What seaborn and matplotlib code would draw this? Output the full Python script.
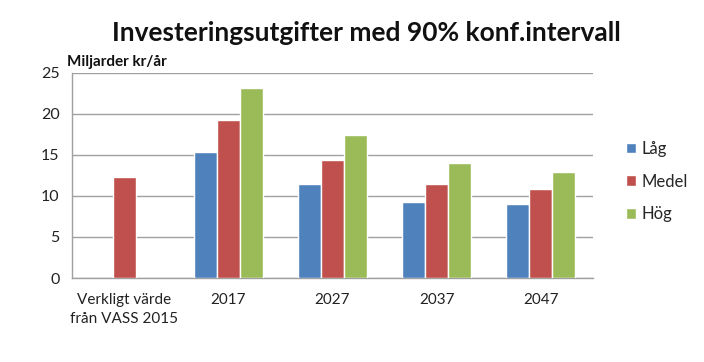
import matplotlib
matplotlib.use("Agg")
import matplotlib.pyplot as plt
import seaborn as sns
import pandas as pd

categories = ["Verkligt värde\nfrån VASS 2015", "2017", "2027", "2037", "2047"]
series = ["Låg", "Medel", "Hög"]
lag = [None, 15.3, 11.4, 9.2, 9.0]
medel = [12.3, 19.2, 14.4, 11.5, 10.9]
hog = [None, 23.1, 17.4, 14.0, 12.9]
colors = ["#4F81BD", "#C0504D", "#9BBB59"]

rows = []
for s, vals in zip(series, [lag, medel, hog]):
    for c, v in zip(categories, vals):
        if v is not None:
            rows.append({"cat": c, "serie": s, "val": v})
df = pd.DataFrame(rows)

sns.set_style("white")
plt.rcParams["font.family"] = ["Lato", "DejaVu Sans"]

fig = plt.figure(figsize=(7.04, 3.62), dpi=100)
ax = fig.add_axes([0.1023, 0.232, 0.7398, 0.567])
sns.barplot(data=df, x="cat", y="val", hue="serie", order=categories,
            hue_order=series, palette=colors, width=0.66, saturation=1,
            errorbar=None, ax=ax, zorder=3)

ax.set_xlim(-0.5, len(categories) - 0.5)
ax.set_ylim(0, 25)
ax.set_yticks([0, 5, 10, 15, 20, 25])
ax.yaxis.grid(True, color="#A0A0A0", linewidth=1.0, zorder=0)
ax.set_axisbelow(True)
ax.set_xlabel("")
ax.set_ylabel("")
for sp in ["top", "right"]:
    ax.spines[sp].set_visible(False)
for sp in ["left", "bottom"]:
    ax.spines[sp].set_color("#A0A0A0")
    ax.spines[sp].set_linewidth(1.0)

ax.set_xticks([i for i in range(len(categories))])
ax.set_xticklabels(categories, linespacing=1.45)
ax.tick_params(axis="x", length=0, labelsize=11, pad=11, labelcolor="#222222")
ax.set_xticks([i - 0.5 for i in range(len(categories) + 1)], minor=True)
ax.tick_params(axis="x", which="minor", length=5, color="#A0A0A0", direction="out")
ax.tick_params(axis="y", length=5, color="#A0A0A0", labelsize=11.5, pad=4, labelcolor="#222222")

leg = ax.legend(loc="center left", bbox_to_anchor=(1.035, 0.47), frameon=False,
                fontsize=12, handlelength=0.6, handleheight=0.6,
                handletextpad=0.3, labelspacing=1.0)

fig.text(0.52, 0.91, "Investeringsutgifter med 90% konf.intervall",
         ha="center", va="center", fontsize=19, fontweight="bold", color="#111111")
fig.text(0.095, 0.828, "Miljarder kr/år", ha="left", va="center",
         fontsize=11, fontweight="bold", color="#111111")

fig.savefig("out.png", dpi=100)
